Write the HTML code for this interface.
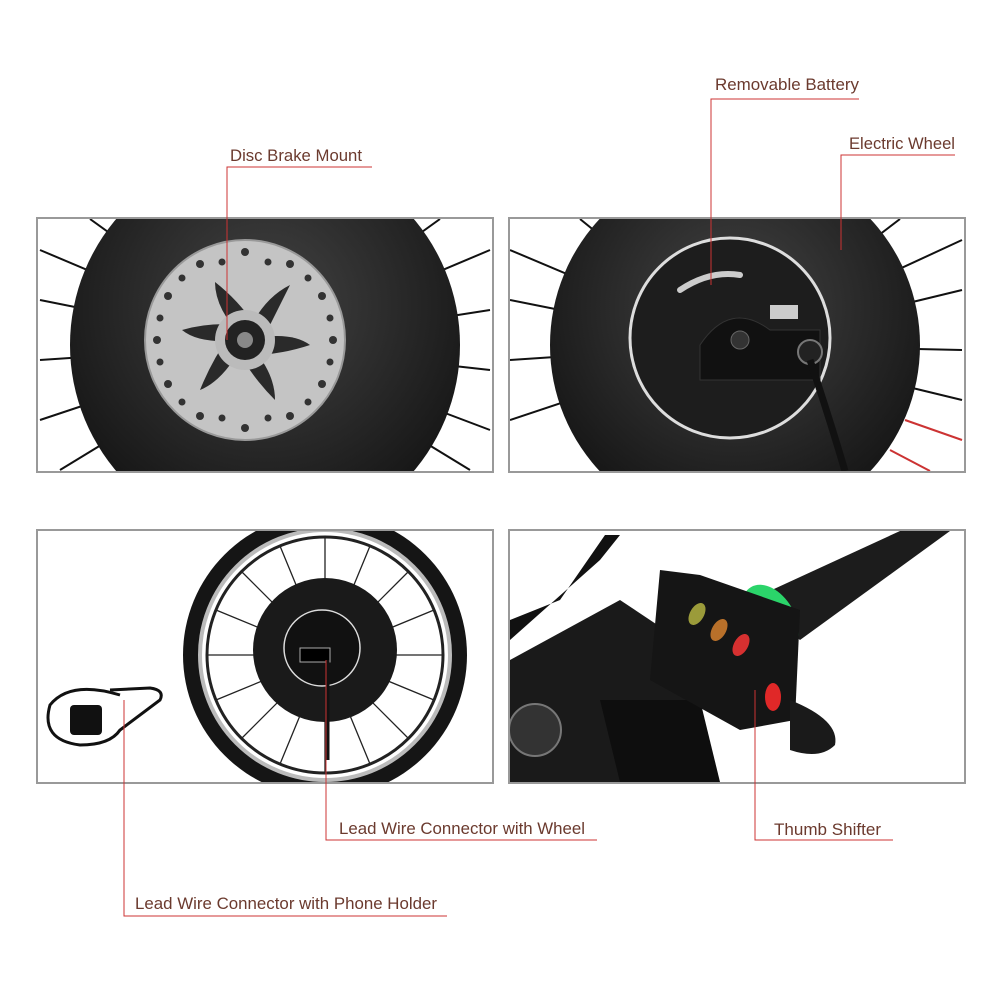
<!DOCTYPE html>
<html><head><style>
html,body{margin:0;padding:0;background:#fff;width:1000px;height:1000px;overflow:hidden}
svg{display:block}
text{font-family:"Liberation Sans",sans-serif;font-size:16.5px;fill:#6b3a2e}
</style></head><body>
<svg width="1000" height="1000" viewBox="0 0 1000 1000" xmlns="http://www.w3.org/2000/svg">
<defs>
<clipPath id="c1"><rect x="38" y="219" width="454" height="252"/></clipPath>
<clipPath id="c2"><rect x="510" y="219" width="454" height="252"/></clipPath>
<clipPath id="c3"><rect x="38" y="531" width="454" height="251"/></clipPath>
<clipPath id="c4"><rect x="510" y="531" width="454" height="251"/></clipPath>
<radialGradient id="hubg" cx="0.5" cy="0.4" r="0.6"><stop offset="0" stop-color="#444"/><stop offset="1" stop-color="#151515"/></radialGradient>
</defs>

<!-- Panel 1 -->
<g clip-path="url(#c1)">
<g stroke="#111" stroke-width="2">
<line x1="265" y1="345" x2="40" y2="250"/><line x1="265" y1="345" x2="40" y2="300"/><line x1="265" y1="345" x2="40" y2="360"/><line x1="265" y1="345" x2="40" y2="420"/><line x1="265" y1="345" x2="60" y2="470"/><line x1="265" y1="345" x2="490" y2="250"/><line x1="265" y1="345" x2="490" y2="310"/><line x1="265" y1="345" x2="490" y2="370"/><line x1="265" y1="345" x2="490" y2="430"/><line x1="265" y1="345" x2="470" y2="470"/><line x1="265" y1="345" x2="90" y2="219"/><line x1="265" y1="345" x2="440" y2="219"/>
</g>
<circle cx="265" cy="345" r="195" fill="url(#hubg)"/>
<circle cx="245" cy="340" r="100" fill="#c4c4c4" stroke="#999" stroke-width="2"/>
<g fill="#333">
<circle cx="245" cy="252" r="4"/><circle cx="290" cy="264" r="4"/><circle cx="322" cy="296" r="4"/><circle cx="333" cy="340" r="4"/><circle cx="322" cy="384" r="4"/><circle cx="290" cy="416" r="4"/><circle cx="245" cy="428" r="4"/><circle cx="200" cy="416" r="4"/><circle cx="168" cy="384" r="4"/><circle cx="157" cy="340" r="4"/><circle cx="168" cy="296" r="4"/><circle cx="200" cy="264" r="4"/>
<circle cx="268" cy="262" r="3.5"/><circle cx="308" cy="278" r="3.5"/><circle cx="330" cy="318" r="3.5"/><circle cx="330" cy="362" r="3.5"/><circle cx="308" cy="402" r="3.5"/><circle cx="268" cy="418" r="3.5"/><circle cx="222" cy="418" r="3.5"/><circle cx="182" cy="402" r="3.5"/><circle cx="160" cy="362" r="3.5"/><circle cx="160" cy="318" r="3.5"/><circle cx="182" cy="278" r="3.5"/><circle cx="222" cy="262" r="3.5"/>
</g>
<g fill="#2a2a2a">
<path d="M245 340 Q260 300 290 285 Q275 315 260 345 Z"/><path d="M245 340 Q290 330 310 345 Q280 355 250 355 Z"/><path d="M245 340 Q275 370 275 400 Q255 380 240 355 Z"/><path d="M245 340 Q225 380 200 390 Q212 360 230 335 Z"/><path d="M245 340 Q200 345 182 330 Q210 322 240 325 Z"/><path d="M245 340 Q215 310 215 282 Q238 300 255 325 Z"/>
</g>
<circle cx="245" cy="340" r="30" fill="#bbb"/>
<circle cx="245" cy="340" r="20" fill="#222"/>
<circle cx="245" cy="340" r="8" fill="#888"/>
</g>
<rect x="37" y="218" width="456" height="254" fill="none" stroke="#999" stroke-width="2"/>

<!-- Panel 2 -->
<g clip-path="url(#c2)">
<g stroke="#111" stroke-width="2">
<line x1="735" y1="345" x2="510" y2="250"/><line x1="735" y1="345" x2="510" y2="300"/><line x1="735" y1="345" x2="510" y2="360"/><line x1="735" y1="345" x2="510" y2="420"/><line x1="735" y1="345" x2="962" y2="240"/><line x1="735" y1="345" x2="962" y2="290"/><line x1="735" y1="345" x2="962" y2="350"/><line x1="735" y1="345" x2="962" y2="400"/><line x1="735" y1="345" x2="580" y2="219"/><line x1="735" y1="345" x2="900" y2="219"/>
</g>
<line x1="905" y1="420" x2="962" y2="440" stroke="#c33" stroke-width="2"/><line x1="890" y1="450" x2="930" y2="471" stroke="#c33" stroke-width="2"/>
<circle cx="735" cy="345" r="185" fill="url(#hubg)"/>
<circle cx="730" cy="338" r="100" fill="#1d1d1d" stroke="#ddd" stroke-width="3"/>
<path d="M680 290 Q710 270 740 275" stroke="#ccc" stroke-width="6" fill="none" stroke-linecap="round"/>
<path d="M700 380 L700 345 Q730 300 770 330 L820 330 L820 380 Z" fill="#111" stroke="#333"/>
<rect x="770" y="305" width="28" height="14" fill="#ccc"/>
<circle cx="740" cy="340" r="9" fill="#333" stroke="#666"/>
<circle cx="810" cy="352" r="12" fill="#222" stroke="#777" stroke-width="2"/>
<path d="M810 360 Q830 420 845 471" stroke="#111" stroke-width="7" fill="none"/>
</g>
<rect x="509" y="218" width="456" height="254" fill="none" stroke="#999" stroke-width="2"/>

<!-- Panel 3 -->
<g clip-path="url(#c3)">
<circle cx="325" cy="655" r="142" fill="#151515"/>
<circle cx="325" cy="655" r="125" fill="#fff" stroke="#bbb" stroke-width="4"/>
<circle cx="325" cy="655" r="118" fill="#fff" stroke="#222" stroke-width="3"/>
<g stroke="#222" stroke-width="1.3">
<line x1="207" y1="655" x2="443" y2="655"/><line x1="325" y1="537" x2="325" y2="773"/><line x1="242" y1="572" x2="408" y2="738"/><line x1="408" y1="572" x2="242" y2="738"/><line x1="216" y1="610" x2="434" y2="700"/><line x1="216" y1="700" x2="434" y2="610"/><line x1="280" y1="546" x2="370" y2="764"/><line x1="370" y1="546" x2="280" y2="764"/>
</g>
<circle cx="325" cy="650" r="72" fill="#1a1a1a"/>
<circle cx="322" cy="648" r="38" fill="#111" stroke="#ddd" stroke-width="1.5"/>
<rect x="300" y="648" width="30" height="14" fill="#000" stroke="#aaa"/>
<path d="M328 660 L328 760" stroke="#111" stroke-width="3"/>
<path d="M120 695 Q70 680 50 705 Q40 740 80 745 Q110 745 120 730 L160 700 Q165 690 150 688 L110 690" stroke="#111" stroke-width="3" fill="none"/>
<rect x="70" y="705" width="32" height="30" rx="4" fill="#111"/>
</g>
<rect x="37" y="530" width="456" height="253" fill="none" stroke="#999" stroke-width="2"/>

<!-- Panel 4 -->
<g clip-path="url(#c4)">
<path d="M750 600 L900 531 L950 531 L800 640 Z" fill="#1c1c1c"/>
<ellipse cx="770" cy="620" rx="25" ry="38" transform="rotate(-30 770 620)" fill="#2bd46a"/>
<path d="M510 640 L600 560 L620 535 L605 535 L560 600 L510 620 Z" fill="#111"/>
<path d="M510 660 L620 600 L680 640 L700 720 L640 782 L510 782 Z" fill="#1a1a1a"/>
<path d="M600 700 L700 700 L720 782 L620 782 Z" fill="#0e0e0e"/>
<circle cx="535" cy="730" r="26" fill="#333" stroke="#777" stroke-width="2"/>
<path d="M660 570 L700 575 L800 610 L795 720 L740 730 L650 680 Z" fill="#151515"/>
<ellipse cx="697" cy="614" rx="7" ry="12" transform="rotate(30 697 614)" fill="#9b9b3a"/>
<ellipse cx="719" cy="630" rx="7" ry="12" transform="rotate(30 719 630)" fill="#b8702a"/>
<ellipse cx="741" cy="645" rx="7" ry="12" transform="rotate(30 741 645)" fill="#d63030"/>
<ellipse cx="773" cy="697" rx="8" ry="14" fill="#e02828"/>
<path d="M790 700 Q840 720 835 745 Q820 760 790 750 Z" fill="#1a1a1a"/>
</g>
<rect x="509" y="530" width="456" height="253" fill="none" stroke="#999" stroke-width="2"/>

<!-- callouts -->
<g stroke="#c33" stroke-width="1" fill="none">
<polyline points="372,167 227,167 227,340"/>
<polyline points="859,99 711,99 711,285"/>
<polyline points="955,155 841,155 841,250"/>
<polyline points="326,660 326,840 597,840"/>
<polyline points="755,690 755,840 893,840"/>
<polyline points="124,700 124,916 447,916"/>
</g>
<text x="230" y="161" textLength="132" lengthAdjust="spacingAndGlyphs">Disc Brake Mount</text>
<text x="715" y="90" textLength="144" lengthAdjust="spacingAndGlyphs">Removable Battery</text>
<text x="849" y="149" textLength="106" lengthAdjust="spacingAndGlyphs">Electric Wheel</text>
<text x="339" y="834" textLength="246" lengthAdjust="spacingAndGlyphs">Lead Wire Connector with Wheel</text>
<text x="774" y="835" textLength="107" lengthAdjust="spacingAndGlyphs">Thumb Shifter</text>
<text x="135" y="909" textLength="302" lengthAdjust="spacingAndGlyphs">Lead Wire Connector with Phone Holder</text>
</svg>
</body></html>
